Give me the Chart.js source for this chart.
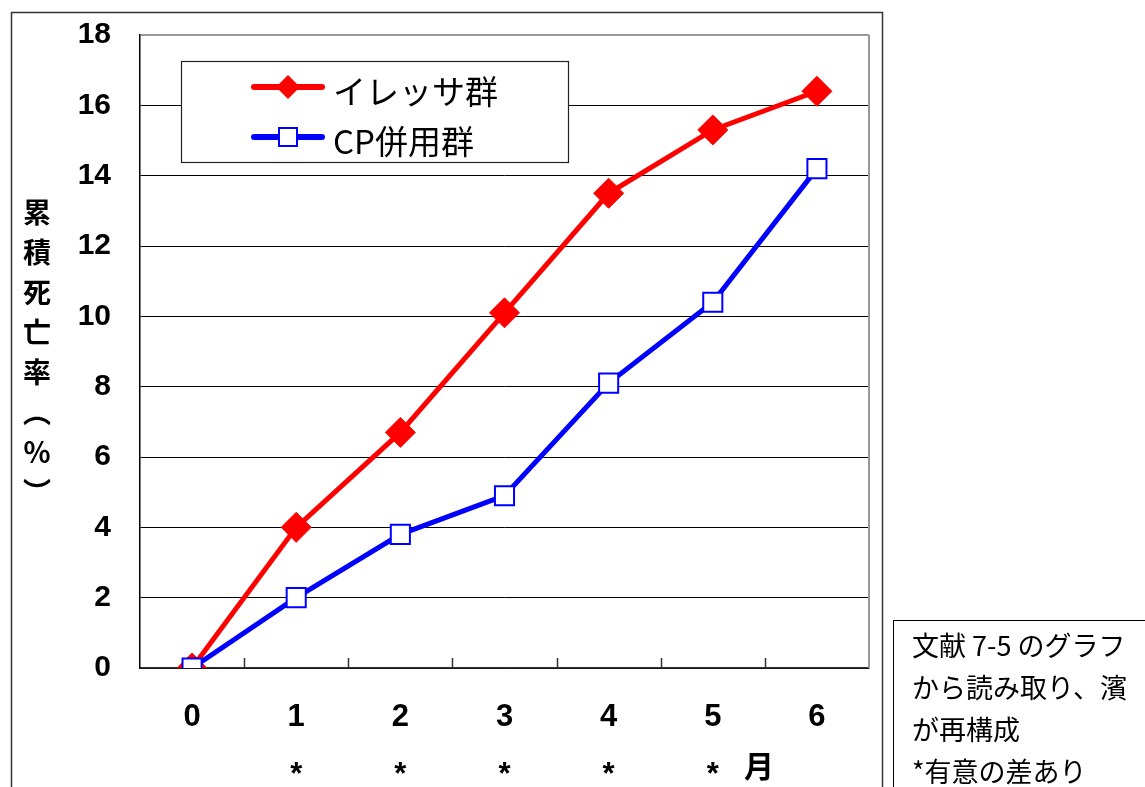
<!DOCTYPE html>
<html>
<head>
<meta charset="utf-8">
<title>累積死亡率</title>
<style>
html, body { margin: 0; padding: 0; background: #fff; }
#wrap { position: relative; width: 1145px; height: 787px; overflow: hidden; }
#chart { position: absolute; left: 0; top: 0; }
#note {
    position: absolute; left: 893px; top: 620px; width: 270px; height: 220px;
    border: 1.5px solid #000; box-sizing: border-box;
    padding: 3px 0 0 18px;
    font-family: "Noto Sans CJK JP", serif; font-size: 27px; line-height: 42px; color: #000;
    white-space: nowrap;
}
</style>
<script src="https://cdn.jsdelivr.net/npm/chart.js@4.4.0/dist/chart.umd.min.js"></script>
</head>
<body>
<div id="wrap">
    <canvas id="chart" width="1145" height="787"></canvas>
    <div id="note">文献 7-5 のグラフ<br>から読み取り、濱<br>が再構成<br>*有意の差あり</div>
</div>
<script>
// data
var months = ['0', '1', '2', '3', '4', '5', '6'];
var marks = ['', '*', '*', '*', '*', '*', ''];
var iressa = [0, 4.0, 6.7, 10.1, 13.5, 15.3, 16.4];
var cpCombo = [0, 2.0, 3.8, 4.9, 8.1, 10.4, 14.2];
var yTicks = [0, 2, 4, 6, 8, 10, 12, 14, 16, 18];
var yTitle = ['累', '積', '死', '亡', '率', '︵', '％', '︶'];

var numFont = "'Liberation Sans', 'Noto Sans CJK JP', sans-serif";
var jpFont = "'Noto Sans CJK JP', sans-serif";

//frame, y title, month unit, tick marks, legend
var extras = {
    id: 'extras',
    beforeDraw: function (chart) {
        var ctx = chart.ctx;
        ctx.save();
        ctx.strokeStyle = '#333';
        ctx.lineWidth = 1.5;
        ctx.strokeRect(11.5, 12.5, 871, 800);
        ctx.restore();
    },
    afterDatasetsDraw: function (chart) {
        var ctx = chart.ctx;
        var area = chart.chartArea;
        var x = chart.scales.x;
        ctx.save();

        // right border of plot
        ctx.strokeStyle = '#999';
        ctx.lineWidth = 2;
        ctx.beginPath();
        ctx.moveTo(area.right, area.top);
        ctx.lineTo(area.right, area.bottom);
        ctx.stroke();

        // inside tick marks between months
        ctx.strokeStyle = '#333';
        ctx.lineWidth = 1.5;
        for (var i = 1; i < months.length; i++) {
            var tx = Math.round((x.getPixelForValue(i - 1) + x.getPixelForValue(i)) / 2) + 0.5;
            ctx.beginPath();
            ctx.moveTo(tx, area.bottom);
            ctx.lineTo(tx, area.bottom - 10);
            ctx.stroke();
        }

        // y title, stacked
        ctx.fillStyle = '#000';
        ctx.font = 'bold 28px ' + jpFont;
        ctx.textAlign = 'center';
        ctx.textBaseline = 'middle';
        yTitle.forEach(function (ch, k) {
            ctx.fillText(ch, 37, 212 + k * 40);
        });

        // month unit
        ctx.font = 'bold 30px ' + jpFont;
        ctx.fillText('月', 759, 766);

        // legend box
        ctx.fillStyle = '#fff';
        ctx.fillRect(181, 61, 387, 101);
        ctx.strokeStyle = '#222';
        ctx.lineWidth = 1.2;
        ctx.strokeRect(181.5, 61.5, 387, 101);

        var rows = [87, 137];
        chart.data.datasets.forEach(function (ds, k) {
            var ry = rows[k];
            ctx.strokeStyle = ds.borderColor;
            ctx.lineWidth = 6;
            ctx.lineCap = 'round';
            ctx.beginPath();
            ctx.moveTo(254, ry);
            ctx.lineTo(322, ry);
            ctx.stroke();
            ctx.lineCap = 'butt';
            if (ds.pointStyle === 'rectRot') {
                ctx.fillStyle = ds.pointBackgroundColor;
                ctx.beginPath();
                ctx.moveTo(288, ry - 12);
                ctx.lineTo(300, ry);
                ctx.lineTo(288, ry + 12);
                ctx.lineTo(276, ry);
                ctx.closePath();
                ctx.fill();
            } else {
                ctx.fillStyle = ds.pointBackgroundColor;
                ctx.fillRect(279, ry - 9, 18, 18);
                ctx.strokeStyle = ds.pointBorderColor;
                ctx.lineWidth = 2;
                ctx.strokeRect(279, ry - 9, 18, 18);
            }
            ctx.fillStyle = '#000';
            ctx.font = '33px ' + jpFont;
            ctx.textAlign = 'left';
            ctx.textBaseline = 'middle';
            ctx.fillText(ds.label, 333, ry + 4);
        });
        ctx.restore();
    }
};

var myChart = new Chart(document.getElementById('chart'), {
    type: 'line',
    data: {
        labels: months.map(function (m, i) { return [m, marks[i]]; }),
        datasets: [
            {
                label: 'イレッサ群',
                data: iressa,
                borderColor: '#ff0000',
                borderWidth: 5,
                pointStyle: 'rectRot',
                pointRadius: 15,
                pointBackgroundColor: '#ff0000',
                pointBorderColor: '#ff0000',
                pointBorderWidth: 1,
                order: 1
            },
            {
                label: 'CP併用群',
                data: cpCombo,
                borderColor: '#0000ff',
                borderWidth: 5,
                pointStyle: 'rect',
                pointRadius: 13.5,
                pointBackgroundColor: '#ffffff',
                pointBorderColor: '#0000ff',
                pointBorderWidth: 2,
                order: 0
            }
        ]
    },
    options: {
        responsive: false,
        animation: false,
        layout: { padding: { left: 0, top: 35, right: 276, bottom: 0 } },
        plugins: {
            legend: { display: false },
            tooltip: { enabled: false }
        },
        scales: {
            x: {
                type: 'category',
                offset: true,
                grid: { display: false },
                border: { display: true, color: '#333', width: 1.5 },
                ticks: {
                    color: '#000',
                    padding: 12,
                    maxRotation: 0,
                    font: { family: numFont, size: 31, weight: 'bold', lineHeight: 1.87 }
                },
                afterFit: function (scale) {
                    scale.height = 119;
                    scale.paddingLeft = 0;
                    scale.paddingRight = 0;
                }
            },
            y: {
                min: 0,
                max: 18,
                afterBuildTicks: function (scale) {
                    scale.ticks = yTicks.map(function (v) { return { value: v }; });
                },
                grid: {
                    drawTicks: false,
                    color: function (c) { return c.tick && c.tick.value === 18 ? '#999' : '#000'; },
                    lineWidth: function (c) { return c.tick && c.tick.value === 18 ? 2 : 1; }
                },
                border: { display: true, color: '#000', width: 1.5 },
                ticks: {
                    color: '#000',
                    padding: 29,
                    font: { family: numFont, size: 30, weight: 'bold' }
                },
                afterFit: function (scale) {
                    scale.width = 140;
                    scale.paddingTop = 0;
                    scale.paddingBottom = 0;
                }
            }
        }
    },
    plugins: [extras]
});
</script>
</body>
</html>
